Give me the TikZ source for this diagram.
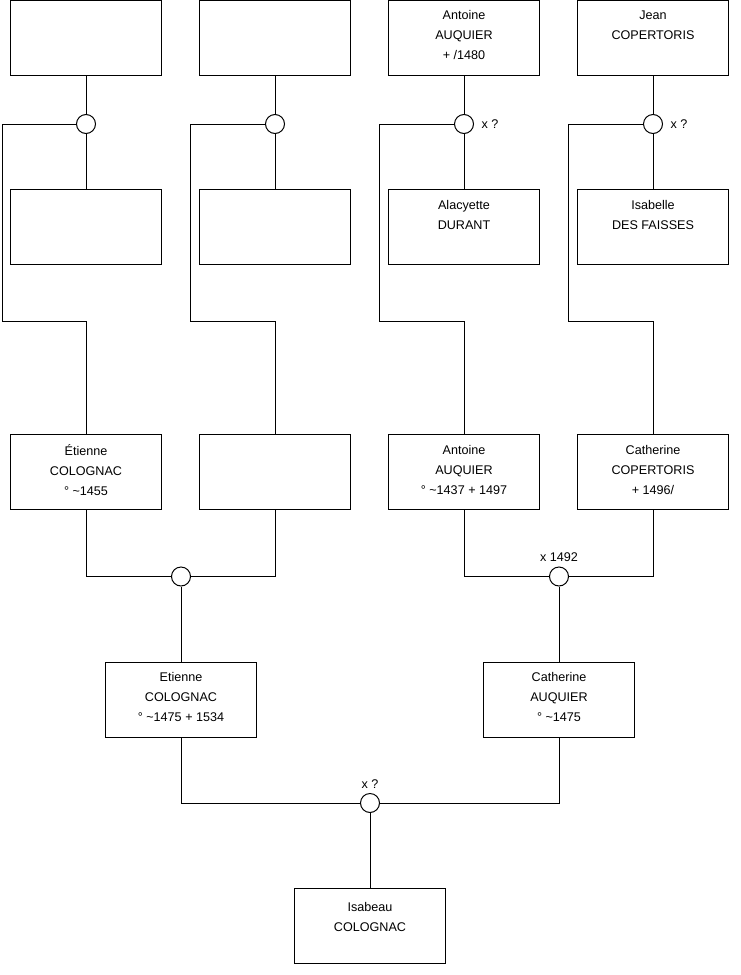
\documentclass[tikz,border=0pt]{standalone}
\usepackage{fontspec}
\setmainfont{Liberation Sans}
\begin{document}
\begin{tikzpicture}[x=1pt,y=-1pt,line width=1pt,
  person/.style={draw=black,fill=white,minimum width=151pt,minimum height=75pt,inner sep=0pt},
  ptext/.style={inner sep=0pt,align=center,font=\fontsize{12.6}{20}\selectfont},
  union/.style={draw=black,fill=white,circle,minimum size=19pt,inner sep=0pt},
  tag/.style={font=\fontsize{12.6}{14}\selectfont,inner sep=0pt}]
\useasboundingbox (0,0) rectangle (740,975);
% top row
\node[person] (t1) at (86,38) {};
\node[person] (t2) at (275,38) {};
\node[person] (t3) at (464,38) {};
\node[person] (t4) at (653,38) {};
\node[ptext] (t3t) at ([yshift=3pt]t3.center) {Antoine\\AUQUIER\\+ /1480};
\node[ptext] (t4t) at ([yshift=13pt]t4.center) {Jean\\COPERTORIS};
% circles top
\node[union] (u1) at (86,124) {};
\node[union] (u2) at (275,124) {};
\node[union] (u3) at (464,124) {};
\node[union] (u4) at (653,124) {};
\node[tag,anchor=west] (l3) at ([xshift=7pt]u3.east) {x ?};
\node[tag,anchor=west] (l4) at ([xshift=7pt]u4.east) {x ?};
% second row
\node[person] (s1) at (86,227) {};
\node[person] (s2) at (275,227) {};
\node[person] (s3) at (464,227) {};
\node[person] (s4) at (653,227) {};
\node[ptext] (s3t) at ([yshift=12pt]s3.center) {Alacyette\\DURANT};
\node[ptext] (s4t) at ([yshift=12pt]s4.center) {Isabelle\\DES FAISSES};
% third row
\node[person] (r1) at (86,472) {};
\node[person] (r2) at (275,472) {};
\node[person] (r3) at (464,472) {};
\node[person] (r4) at (653,472) {};
\node[ptext] (r1t) at ([yshift=2pt]r1.center) {Étienne\\COLOGNAC\\° \textasciitilde1455};
\node[ptext] (r3t) at ([yshift=2pt]r3.center) {Antoine\\AUQUIER\\° \textasciitilde1437 + 1497};
\node[ptext] (r4t) at ([yshift=2pt]r4.center) {Catherine\\COPERTORIS\\+ 1496/};
% corner coordinates
\coordinate (k1) at (2,321.5);
\coordinate (k2) at (190.5,321.5);
\coordinate (k3) at (379.5,321.5);
\coordinate (k4) at (568.5,321.5);
% connectors top
\foreach \i in {1,2,3,4}{
  \draw (t\i.south) -- (u\i.north);
  \draw (u\i.south) -- (s\i.north);
  \draw (u\i.west) -| (k\i) -| (r\i.north);
}
% middle unions
\node[union] (m1) at (181,576.5) {};
\node[union] (m2) at (559,576.5) {};
\node[tag,anchor=south] (lm2) at ([yshift=4.5pt]m2.north) {x 1492};
\draw (r1.south) |- (m1.west);
\draw (r2.south) |- (m1.east);
\draw (r3.south) |- (m2.west);
\draw (r4.south) |- (m2.east);
% fourth row
\node[person] (f1) at (181,699.5) {};
\node[person] (f2) at (559,699.5) {};
\node[ptext] (f1t) at ([yshift=2.5pt]f1.center) {Etienne\\COLOGNAC\\° \textasciitilde1475 + 1534};
\node[ptext] (f2t) at ([yshift=2.5pt]f2.center) {Catherine\\AUQUIER\\° \textasciitilde1475};
\draw (m1.south) -- (f1.north);
\draw (m2.south) -- (f2.north);
% bottom union
\node[union] (b) at (370,803) {};
\node[tag,anchor=south] (lb) at ([yshift=4pt]b.north) {x ?};
\draw (f1.south) |- (b.west);
\draw (f2.south) |- (b.east);
% child
\node[person] (c) at (370,925.5) {};
\node[ptext] (ct) at ([yshift=8.5pt]c.center) {Isabeau\\COLOGNAC};
\draw (b.south) -- (c.north);
\end{tikzpicture}
\end{document}
